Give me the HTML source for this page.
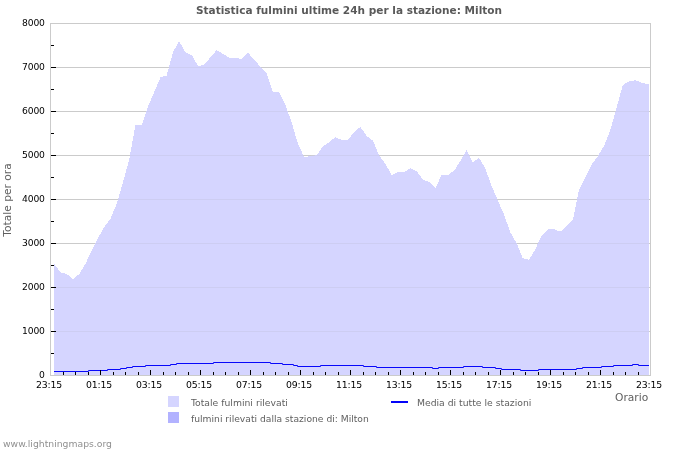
<!DOCTYPE html>
<html><head><meta charset="utf-8"><title>Statistica fulmini</title>
<style>html,body{margin:0;padding:0;background:#fff}</style></head>
<body>
<svg width="700" height="450" viewBox="0 0 700 450" style="display:block">
<rect width="700" height="450" fill="#fff"/>
<defs><clipPath id="ac"><polygon points="54.0,375.0 54.0,264.0 54.3,264.0 60.5,272.3 66.8,274.1 73.0,279.0 79.3,273.9 85.5,263.7 91.8,250.5 98.0,238.2 104.3,227.0 110.5,218.7 116.8,203.5 123.0,182.2 129.3,159.0 135.5,124.9 141.8,124.9 148.0,106.4 154.3,92.0 160.5,77.2 166.7,75.5 173.0,52.0 179.2,41.2 185.5,52.4 191.7,55.1 198.0,66.0 204.2,64.9 210.5,57.2 216.7,50.1 223.0,53.8 229.2,57.7 235.5,58.0 241.7,58.9 248.0,52.7 254.2,59.7 260.5,66.8 266.7,73.2 272.9,92.0 279.2,92.0 285.4,105.0 291.7,122.5 297.9,143.8 304.2,157.2 310.4,156.0 316.7,155.3 322.9,146.5 329.2,142.1 335.4,137.1 341.7,140.0 347.9,140.0 354.2,131.9 360.4,126.9 366.7,136.1 372.9,140.6 379.1,155.5 385.4,163.7 391.6,175.0 397.9,172.1 404.1,172.1 410.4,168.3 416.6,171.2 422.9,179.5 429.1,182.0 435.4,188.1 441.6,175.0 447.9,175.0 454.1,170.7 460.4,161.1 466.6,150.0 472.8,162.1 479.1,157.9 485.3,168.5 491.6,185.8 497.8,200.5 504.1,214.8 510.3,232.3 516.6,243.1 522.8,258.3 529.1,259.7 535.3,249.2 541.6,235.6 547.8,229.3 554.1,229.3 560.3,231.7 566.6,225.6 572.8,220.0 579.0,190.0 585.3,177.7 591.5,164.9 597.8,156.2 604.0,146.0 610.3,130.1 616.5,108.0 622.8,85.0 629.0,81.5 635.3,80.3 641.5,82.6 647.8,84.2 649.0,84.2 649.0,375.0"/></clipPath></defs>
<rect x="50" y="23" width="601" height="1" fill="#cbcbcb"/>
<rect x="50" y="67" width="601" height="1" fill="#cbcbcb"/>
<rect x="50" y="111" width="601" height="1" fill="#cbcbcb"/>
<rect x="50" y="155" width="601" height="1" fill="#cbcbcb"/>
<rect x="50" y="199" width="601" height="1" fill="#cbcbcb"/>
<rect x="50" y="243" width="601" height="1" fill="#cbcbcb"/>
<rect x="50" y="287" width="601" height="1" fill="#cbcbcb"/>
<rect x="50" y="331" width="601" height="1" fill="#cbcbcb"/>
<rect x="50" y="375" width="601" height="1" fill="#cbcbcb"/>
<rect x="50" y="23" width="1" height="353" fill="#cbcbcb"/>
<rect x="650" y="23" width="1" height="353" fill="#cbcbcb"/>
<polygon points="54.0,375.0 54.0,264.0 54.3,264.0 60.5,272.3 66.8,274.1 73.0,279.0 79.3,273.9 85.5,263.7 91.8,250.5 98.0,238.2 104.3,227.0 110.5,218.7 116.8,203.5 123.0,182.2 129.3,159.0 135.5,124.9 141.8,124.9 148.0,106.4 154.3,92.0 160.5,77.2 166.7,75.5 173.0,52.0 179.2,41.2 185.5,52.4 191.7,55.1 198.0,66.0 204.2,64.9 210.5,57.2 216.7,50.1 223.0,53.8 229.2,57.7 235.5,58.0 241.7,58.9 248.0,52.7 254.2,59.7 260.5,66.8 266.7,73.2 272.9,92.0 279.2,92.0 285.4,105.0 291.7,122.5 297.9,143.8 304.2,157.2 310.4,156.0 316.7,155.3 322.9,146.5 329.2,142.1 335.4,137.1 341.7,140.0 347.9,140.0 354.2,131.9 360.4,126.9 366.7,136.1 372.9,140.6 379.1,155.5 385.4,163.7 391.6,175.0 397.9,172.1 404.1,172.1 410.4,168.3 416.6,171.2 422.9,179.5 429.1,182.0 435.4,188.1 441.6,175.0 447.9,175.0 454.1,170.7 460.4,161.1 466.6,150.0 472.8,162.1 479.1,157.9 485.3,168.5 491.6,185.8 497.8,200.5 504.1,214.8 510.3,232.3 516.6,243.1 522.8,258.3 529.1,259.7 535.3,249.2 541.6,235.6 547.8,229.3 554.1,229.3 560.3,231.7 566.6,225.6 572.8,220.0 579.0,190.0 585.3,177.7 591.5,164.9 597.8,156.2 604.0,146.0 610.3,130.1 616.5,108.0 622.8,85.0 629.0,81.5 635.3,80.3 641.5,82.6 647.8,84.2 649.0,84.2 649.0,375.0" fill="#d5d5ff" shape-rendering="crispEdges"/>
<g clip-path="url(#ac)" shape-rendering="crispEdges">
<rect x="50" y="67" width="601" height="1" fill="#cdcdf2"/>
<rect x="50" y="111" width="601" height="1" fill="#cdcdf2"/>
<rect x="50" y="155" width="601" height="1" fill="#cdcdf2"/>
<rect x="50" y="199" width="601" height="1" fill="#cdcdf2"/>
<rect x="50" y="243" width="601" height="1" fill="#cdcdf2"/>
<rect x="50" y="287" width="601" height="1" fill="#cdcdf2"/>
<rect x="50" y="331" width="601" height="1" fill="#cdcdf2"/>
</g>
<path d="M54,371.5H88.5V370.5H107.5V369.5H120.5V368.5H126.5V367.5H132.5V366.5H145.5V365.5H170.5V364.5H176.5V363.5H213.5V362.5H270.5V363.5H282.5V364.5H293.5V365.5H297.5V366.5H320.5V365.5H363.5V366.5H376.5V367.5H432.5V368.5H438.5V367.5H463.5V366.5H482.5V367.5H495.5V368.5H501.5V369.5H520.5V370.5H538.5V369.5H576.5V368.5H582.5V367.5H601.5V366.5H613.5V365.5H632.5V364.5H638.5V365.5H649" fill="none" stroke="#0808fa" stroke-width="1" stroke-linejoin="miter"/>
<rect x="51" y="45" width="3" height="1" fill="#000"/>
<rect x="51" y="67" width="5" height="1" fill="#000"/>
<rect x="51" y="89" width="3" height="1" fill="#000"/>
<rect x="51" y="111" width="5" height="1" fill="#000"/>
<rect x="51" y="133" width="3" height="1" fill="#000"/>
<rect x="51" y="155" width="5" height="1" fill="#000"/>
<rect x="51" y="177" width="3" height="1" fill="#000"/>
<rect x="51" y="199" width="5" height="1" fill="#000"/>
<rect x="51" y="221" width="3" height="1" fill="#000"/>
<rect x="51" y="243" width="5" height="1" fill="#000"/>
<rect x="51" y="265" width="3" height="1" fill="#000"/>
<rect x="51" y="287" width="5" height="1" fill="#000"/>
<rect x="51" y="309" width="3" height="1" fill="#000"/>
<rect x="51" y="331" width="5" height="1" fill="#000"/>
<rect x="51" y="353" width="3" height="1" fill="#000"/>
<rect x="63" y="372" width="1" height="3" fill="#000"/>
<rect x="75" y="372" width="1" height="3" fill="#000"/>
<rect x="88" y="372" width="1" height="3" fill="#000"/>
<rect x="100" y="370" width="1" height="5" fill="#000"/>
<rect x="113" y="372" width="1" height="3" fill="#000"/>
<rect x="125" y="372" width="1" height="3" fill="#000"/>
<rect x="138" y="372" width="1" height="3" fill="#000"/>
<rect x="150" y="370" width="1" height="5" fill="#000"/>
<rect x="163" y="372" width="1" height="3" fill="#000"/>
<rect x="175" y="372" width="1" height="3" fill="#000"/>
<rect x="188" y="372" width="1" height="3" fill="#000"/>
<rect x="200" y="370" width="1" height="5" fill="#000"/>
<rect x="213" y="372" width="1" height="3" fill="#000"/>
<rect x="225" y="372" width="1" height="3" fill="#000"/>
<rect x="238" y="372" width="1" height="3" fill="#000"/>
<rect x="250" y="370" width="1" height="5" fill="#000"/>
<rect x="263" y="372" width="1" height="3" fill="#000"/>
<rect x="275" y="372" width="1" height="3" fill="#000"/>
<rect x="288" y="372" width="1" height="3" fill="#000"/>
<rect x="300" y="370" width="1" height="5" fill="#000"/>
<rect x="313" y="372" width="1" height="3" fill="#000"/>
<rect x="325" y="372" width="1" height="3" fill="#000"/>
<rect x="338" y="372" width="1" height="3" fill="#000"/>
<rect x="350" y="370" width="1" height="5" fill="#000"/>
<rect x="363" y="372" width="1" height="3" fill="#000"/>
<rect x="375" y="372" width="1" height="3" fill="#000"/>
<rect x="388" y="372" width="1" height="3" fill="#000"/>
<rect x="400" y="370" width="1" height="5" fill="#000"/>
<rect x="413" y="372" width="1" height="3" fill="#000"/>
<rect x="425" y="372" width="1" height="3" fill="#000"/>
<rect x="438" y="372" width="1" height="3" fill="#000"/>
<rect x="450" y="370" width="1" height="5" fill="#000"/>
<rect x="463" y="372" width="1" height="3" fill="#000"/>
<rect x="475" y="372" width="1" height="3" fill="#000"/>
<rect x="488" y="372" width="1" height="3" fill="#000"/>
<rect x="500" y="370" width="1" height="5" fill="#000"/>
<rect x="513" y="372" width="1" height="3" fill="#000"/>
<rect x="525" y="372" width="1" height="3" fill="#000"/>
<rect x="538" y="372" width="1" height="3" fill="#000"/>
<rect x="550" y="370" width="1" height="5" fill="#000"/>
<rect x="563" y="372" width="1" height="3" fill="#000"/>
<rect x="575" y="372" width="1" height="3" fill="#000"/>
<rect x="588" y="372" width="1" height="3" fill="#000"/>
<rect x="600" y="370" width="1" height="5" fill="#000"/>
<rect x="613" y="372" width="1" height="3" fill="#000"/>
<rect x="625" y="372" width="1" height="3" fill="#000"/>
<rect x="638" y="372" width="1" height="3" fill="#000"/>
<g font-family="'DejaVu Sans', sans-serif" font-size="9.33px" fill="#000">
<text x="44.7" y="25.8" text-anchor="end" font-size="9.2px" letter-spacing="-0.2">8000</text>
<text x="44.7" y="69.8" text-anchor="end" font-size="9.2px" letter-spacing="-0.2">7000</text>
<text x="44.7" y="113.8" text-anchor="end" font-size="9.2px" letter-spacing="-0.2">6000</text>
<text x="44.7" y="157.8" text-anchor="end" font-size="9.2px" letter-spacing="-0.2">5000</text>
<text x="44.7" y="201.8" text-anchor="end" font-size="9.2px" letter-spacing="-0.2">4000</text>
<text x="44.7" y="245.8" text-anchor="end" font-size="9.2px" letter-spacing="-0.2">3000</text>
<text x="44.7" y="289.8" text-anchor="end" font-size="9.2px" letter-spacing="-0.2">2000</text>
<text x="44.7" y="333.8" text-anchor="end" font-size="9.2px" letter-spacing="-0.2">1000</text>
<text x="44.7" y="377.8" text-anchor="end" font-size="9.2px" letter-spacing="-0.2">0</text>
<text x="49.0" y="388.3" text-anchor="middle" letter-spacing="-0.15">23:15</text>
<text x="99.0" y="388.3" text-anchor="middle" letter-spacing="-0.15">01:15</text>
<text x="149.0" y="388.3" text-anchor="middle" letter-spacing="-0.15">03:15</text>
<text x="199.0" y="388.3" text-anchor="middle" letter-spacing="-0.15">05:15</text>
<text x="249.0" y="388.3" text-anchor="middle" letter-spacing="-0.15">07:15</text>
<text x="299.0" y="388.3" text-anchor="middle" letter-spacing="-0.15">09:15</text>
<text x="349.0" y="388.3" text-anchor="middle" letter-spacing="-0.15">11:15</text>
<text x="399.0" y="388.3" text-anchor="middle" letter-spacing="-0.15">13:15</text>
<text x="449.0" y="388.3" text-anchor="middle" letter-spacing="-0.15">15:15</text>
<text x="499.0" y="388.3" text-anchor="middle" letter-spacing="-0.15">17:15</text>
<text x="549.0" y="388.3" text-anchor="middle" letter-spacing="-0.15">19:15</text>
<text x="599.0" y="388.3" text-anchor="middle" letter-spacing="-0.15">21:15</text>
<text x="649.0" y="388.3" text-anchor="middle" letter-spacing="-0.15">23:15</text>
</g>
<g font-family="'DejaVu Sans', sans-serif" fill="#606060">
<text transform="translate(349 14) scale(0.959 1)" x="0" y="0" text-anchor="middle" font-weight="bold" font-size="11px" fill="#595959">Statistica fulmini ultime 24h per la stazione: Milton</text>
<text x="10.8" y="200" text-anchor="middle" font-size="10.67px" transform="rotate(-90 10.8 200)">Totale per ora</text>
<text x="615" y="401" font-size="10.67px">Orario</text>
<text x="191" y="405.5" font-size="9.25px">Totale fulmini rilevati</text>
<text x="191" y="421.5" font-size="9.18px">fulmini rilevati dalla stazione di: Milton</text>
<text x="417" y="405.5" font-size="9.25px">Media di tutte le stazioni</text>
<text x="3" y="446.6" font-size="9.25px" fill="#909090">www.lightningmaps.org</text>
</g>
<rect x="168" y="396" width="11" height="11" fill="#d5d5ff"/>
<rect x="168" y="412" width="11" height="11" fill="#b2b2ff"/>
<rect x="391" y="401" width="17" height="2" fill="#0404f8"/>
</svg>
</body></html>
